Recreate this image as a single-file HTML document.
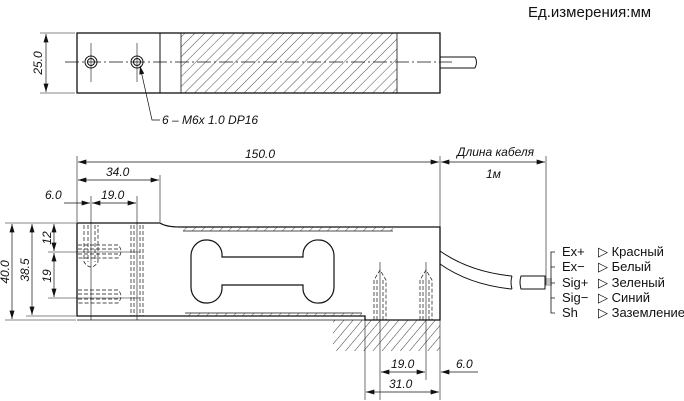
<!DOCTYPE html>
<html><head><meta charset="utf-8"><style>
html,body{margin:0;padding:0;background:#fff}
svg{display:block}
text{font-family:"Liberation Sans",sans-serif;fill:#111}
.i{font-style:italic;font-size:12px}
</style></head><body>
<svg width="684" height="401" viewBox="0 0 684 401" xmlns="http://www.w3.org/2000/svg">
<defs>
<pattern id="h" width="7" height="7" patternUnits="userSpaceOnUse" patternTransform="rotate(45)">
<line x1="0" y1="0" x2="0" y2="7" stroke="#222" stroke-width="0.8"/></pattern>
<pattern id="s" width="9" height="4" patternUnits="userSpaceOnUse" patternTransform="skewX(-45)">
<line x1="0" y1="0" x2="0" y2="4" stroke="#111" stroke-width="1"/></pattern>
<pattern id="g" width="7" height="7" patternUnits="userSpaceOnUse" patternTransform="rotate(40)">
<line x1="0" y1="0" x2="0" y2="7" stroke="#222" stroke-width="0.9"/></pattern>
<marker id="a" viewBox="0 0 10 6" refX="10" refY="3" markerWidth="9" markerHeight="5" orient="auto-start-reverse" markerUnits="userSpaceOnUse"><path d="M0,0L10,3L0,6z" fill="#111"/></marker>
</defs>
<g stroke="#111" fill="none" stroke-width="1">
<text x="528" y="17" style="font-size:15px" stroke="none">Ед.измерения:мм</text>
<!-- top view -->
<rect x="77" y="33" width="363" height="60" stroke-width="1.3"/>
<line x1="160" y1="33" x2="160" y2="93"/>
<rect x="181" y="33" width="216" height="60" fill="url(#h)" stroke-width="0.8"/>
<line x1="65" y1="62" x2="452" y2="62" stroke-dasharray="14,3,2,3" stroke-width="0.7"/>
<path d="M440 57H475M440 68H475M475 57Q478 62 475 68" />
<circle cx="91" cy="62" r="6"/><circle cx="91" cy="62" r="3.5"/>
<circle cx="137" cy="62" r="6"/><circle cx="137" cy="62" r="3.5"/>
<line x1="91" y1="43" x2="91" y2="82" stroke-width="0.6"/><line x1="137" y1="43" x2="137" y2="82" stroke-width="0.6"/>
<line x1="40" y1="33" x2="75" y2="33" stroke-width="0.6"/><line x1="40" y1="93" x2="75" y2="93" stroke-width="0.6"/>
<line x1="46" y1="34" x2="46" y2="92" marker-start="url(#a)" marker-end="url(#a)" stroke-width="0.7"/>
<text class="i" transform="translate(42,63) rotate(-90)" text-anchor="middle" stroke="none">25.0</text>
<path d="M160 120H152L140 66" stroke-width="0.7" marker-end="url(#a)"/>
<text class="i" x="162" y="124" stroke="none">6 – M6x 1.0 DP16</text>
<!-- side view -->
<path d="M77 223H160Q166 227 180 227H440V320H365V316H77Z" stroke-width="1.3"/>
<line x1="77" y1="320" x2="365" y2="320" stroke-width="0.8"/>
<path d="M183 231H393M185 313H362" stroke-width="0.8"/>
<rect x="183" y="227" width="210" height="4" fill="url(#s)" stroke="none"/>
<rect x="185" y="313" width="177" height="3" fill="url(#s)" stroke="none"/>
<path d="M206 240H208A15 15 0 0 1 222 256V257H303V256A15 15 0 0 1 319 240A15 16 0 0 1 334 256V287A15 16 0 0 1 319 303A15 15 0 0 1 303 287V285H222V287A15 15 0 0 1 208 303H206A15 16 0 0 1 191 287V256A15 16 0 0 1 206 240Z" stroke-width="1.2"/>
<!-- hidden features left -->
<g stroke-dasharray="4,2" stroke-width="0.7">
<path d="M84 225V262Q91 272 98 262V225M88 225V262M95 225V262"/>
<path d="M78 245H118Q124 251 118 258H78M78 249H118M78 254H118"/>
<path d="M78 290H118Q124 296 118 303H78M78 294H118M78 299H118"/>
<path d="M131 225V316M134 225V316M140 225V316M143 225V316"/>
<path d="M374 320V280L380 270L386 280V320M377 320V280M383 320V280"/>
<path d="M420 320V280L426 270L432 280V320M423 320V280M429 320V280"/>
</g>
<!-- ground -->
<rect x="333" y="320" width="107" height="31" fill="url(#g)" stroke="none"/>
<!-- center/ext lines -->
<g stroke-width="0.6">
<line x1="91" y1="196" x2="91" y2="320"/><line x1="137" y1="196" x2="137" y2="320"/>
<line x1="77" y1="156" x2="77" y2="222"/><line x1="160" y1="175" x2="160" y2="222"/>
<line x1="440" y1="156" x2="440" y2="400"/><line x1="546" y1="156" x2="546" y2="285"/>
<line x1="380" y1="262" x2="380" y2="400"/><line x1="426" y1="262" x2="426" y2="380"/>
<line x1="365" y1="320" x2="365" y2="400"/>
<line x1="5" y1="223" x2="76" y2="223"/><line x1="5" y1="320" x2="76" y2="320"/>
<line x1="26" y1="316" x2="76" y2="316"/>
<line x1="48" y1="252" x2="140" y2="252"/><line x1="48" y1="298" x2="140" y2="298"/>
</g>
<g stroke-width="0.7">
<line x1="78" y1="162" x2="439" y2="162" marker-start="url(#a)" marker-end="url(#a)"/>
<line x1="441" y1="162" x2="545" y2="162" marker-start="url(#a)" marker-end="url(#a)"/>
<line x1="78" y1="180" x2="159" y2="180" marker-start="url(#a)" marker-end="url(#a)"/>
<line x1="64" y1="203" x2="90" y2="203" marker-end="url(#a)"/>
<line x1="92" y1="203" x2="136" y2="203" marker-start="url(#a)" marker-end="url(#a)"/>
<line x1="12" y1="224" x2="12" y2="319" marker-start="url(#a)" marker-end="url(#a)"/>
<line x1="32" y1="224" x2="32" y2="315" marker-start="url(#a)" marker-end="url(#a)"/>
<line x1="54" y1="224" x2="54" y2="251" marker-start="url(#a)" marker-end="url(#a)"/>
<line x1="54" y1="253" x2="54" y2="297" marker-start="url(#a)" marker-end="url(#a)"/>
<line x1="381" y1="372" x2="425" y2="372" marker-start="url(#a)" marker-end="url(#a)"/>
<line x1="441" y1="372" x2="478" y2="372" marker-start="url(#a)"/>
<line x1="366" y1="392" x2="439" y2="392" marker-start="url(#a)" marker-end="url(#a)"/>
</g>
<g stroke="none">
<text class="i" x="245" y="158">150.0</text>
<text class="i" x="106" y="176">34.0</text>
<text class="i" x="45" y="199">6.0</text>
<text class="i" x="101" y="199">19.0</text>
<text class="i" x="457" y="156">Длина кабеля</text>
<text class="i" x="486" y="178">1м</text>
<text class="i" transform="translate(9,272) rotate(-90)" text-anchor="middle">40.0</text>
<text class="i" transform="translate(29,270) rotate(-90)" text-anchor="middle">38.5</text>
<text class="i" transform="translate(51,238) rotate(-90)" text-anchor="middle">12</text>
<text class="i" transform="translate(51,276) rotate(-90)" text-anchor="middle">19</text>
<text class="i" x="391" y="368">19.0</text>
<text class="i" x="456" y="368">6.0</text>
<text class="i" x="389" y="388">31.0</text>
</g>
<!-- cable -->
<path d="M440 251Q470 272 512 276M440 264Q470 285 512 289M512 276Q510 282 512 289" stroke-width="1"/>
<path d="M521 276H545V289H521Q519 282 521 276Z"/>
<path d="M545 279H552M545 281H552M545 283H552M545 285H552" stroke-width="0.6"/>
<path d="M555 252H551V313H555M551 267H555M551 283H555M551 298H555" stroke-width="0.8"/>
<g stroke="none" style="font-size:13px">
<text x="562" y="256">Ex+</text><text x="562" y="271">Ex−</text><text x="562" y="287">Sig+</text><text x="562" y="302">Sig−</text><text x="562" y="317">Sh</text>
<text x="598" y="256">▷ Красный</text><text x="598" y="271">▷ Белый</text><text x="598" y="287">▷ Зеленый</text><text x="598" y="302">▷ Синий</text><text x="598" y="317">▷ Заземление</text>
</g>
</g>
</svg>
</body></html>
